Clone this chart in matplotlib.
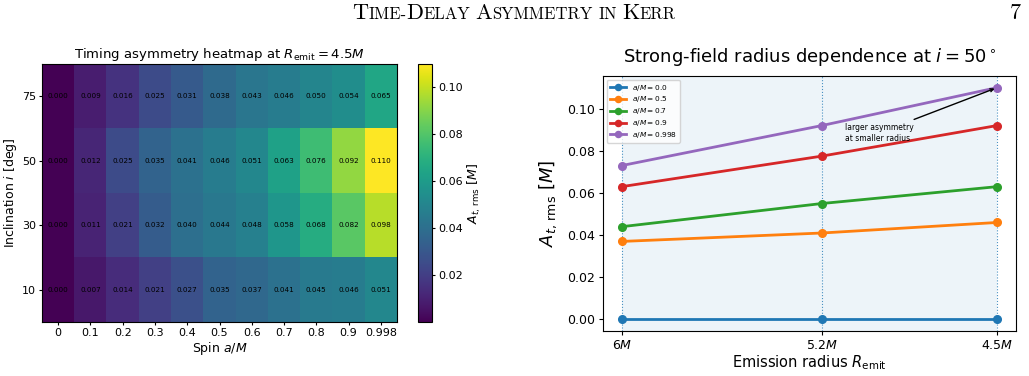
import numpy as np
import matplotlib
matplotlib.use("Agg")
import matplotlib.pyplot as plt

# ---------------- data ----------------
spins = ["0", "0.1", "0.2", "0.3", "0.4", "0.5", "0.6", "0.7", "0.8", "0.9", "0.998"]
inclinations = ["75", "50", "30", "10"]
A_i75 = [0.000, 0.009, 0.016, 0.025, 0.031, 0.038, 0.043, 0.046, 0.050, 0.054, 0.065]
A_i50 = [0.000, 0.012, 0.025, 0.035, 0.041, 0.046, 0.051, 0.063, 0.076, 0.092, 0.110]
A_i30 = [0.000, 0.011, 0.021, 0.032, 0.040, 0.044, 0.048, 0.058, 0.068, 0.082, 0.098]
A_i10 = [0.000, 0.007, 0.014, 0.021, 0.027, 0.035, 0.037, 0.041, 0.045, 0.046, 0.051]

radii = [6.0, 5.2, 4.5]
radius_labels = ["$6M$", "$5.2M$", "$4.5M$"]
line_spins = ["0.0", "0.5", "0.7", "0.9", "0.998"]
A_a00 = [0.000, 0.000, 0.000]
A_a05 = [0.037, 0.041, 0.046]
A_a07 = [0.044, 0.055, 0.063]
A_a09 = [0.063, 0.0775, 0.092]
A_a0998 = [0.073, 0.092, 0.110]

cbar_ticks = [0.02, 0.04, 0.06, 0.08, 0.10]

# ---------------- figure ----------------
W, H = 1029, 376
fig = plt.figure(figsize=(W / 100, H / 100), dpi=100)

def rect(l, t, r, b):
    return [l / W, 1 - b / H, (r - l) / W, (b - t) / H]

# header in small caps (simulated)
def small_caps(fig, text, x, y, big=16, small=12):
    pieces = []
    for word_i, word in enumerate(text.split(" ")):
        if word_i > 0:
            pieces.append((" ", small))
        buf = ""
        for ch in word:
            if ch.isupper():
                if buf:
                    pieces.append((buf.upper(), small)); buf = ""
                pieces.append((ch, big))
            else:
                buf += ch
        if buf:
            pieces.append((buf.upper(), small))
    arts = [fig.text(0, 0, s, fontsize=fs, family="cmr10", va="baseline", ha="left")
            for s, fs in pieces]
    fig.canvas.draw()
    r = fig.canvas.get_renderer()
    xpix, ypix = fig.transFigure.transform((x, y))
    widths = [a.get_window_extent(renderer=r).width for a in arts]
    cur = xpix - sum(widths) / 2
    for a, w in zip(arts, widths):
        a.set_position(fig.transFigure.inverted().transform((cur, ypix)))
        cur += w

small_caps(fig, "Time-Delay Asymmetry in Kerr", 514 / W, 1 - 19 / H)
fig.text(1015 / W, 1 - 19 / H, "7", fontsize=16, family="cmr10", va="baseline", ha="center")

# ---------------- heatmap ----------------
ax1 = fig.add_axes(rect(42, 64, 397, 322))
data = np.array([A_i75, A_i50, A_i30, A_i10])
im = ax1.imshow(data, cmap="viridis", aspect="auto", vmin=0.0, vmax=data.max())
ax1.set_xticks(range(len(spins)))
ax1.set_xticklabels(spins, fontsize=8)
ax1.set_yticks(range(len(inclinations)))
ax1.set_yticklabels(inclinations, fontsize=8)
ax1.tick_params(length=2.5, pad=2)
for i in range(data.shape[0]):
    for j in range(data.shape[1]):
        ax1.text(j, i, f"{data[i, j]:.3f}", ha="center", va="center", fontsize=5.2, color="black")
ax1.set_xlabel("Spin $a/M$", fontsize=9, labelpad=1)
ax1.set_ylabel("Inclination $i$ [deg]", fontsize=9, labelpad=2)
ax1.set_title(r"Timing asymmetry heatmap at $R_\mathrm{emit} = 4.5M$", fontsize=9.5, pad=4)

cax = fig.add_axes(rect(418, 64, 432, 322))
cb = fig.colorbar(im, cax=cax, ticks=cbar_ticks)
cb.ax.tick_params(labelsize=8, length=2.5, pad=2)
cb.set_label(r"$A_{t,\,\mathrm{rms}}\ [M]$", fontsize=9, labelpad=2)

# ---------------- line chart ----------------
ax2 = fig.add_axes(rect(603, 76, 1016, 331))
series = [A_a00, A_a05, A_a07, A_a09, A_a0998]
for k, (s, vals) in enumerate(zip(line_spins, series)):
    ax2.plot(radii, vals, marker="o", lw=2, ms=5.5, color=f"C{k}", label=f"$a/M = {s}$")
ax2.invert_xaxis()
ax2.axvspan(min(radii), max(radii), color="C0", alpha=0.08, lw=0, zorder=0)
for r_ in radii:
    ax2.axvline(r_, color="C0", ls=":", lw=0.8, alpha=0.8, zorder=0)
ax2.set_xticks(radii)
ax2.set_xticklabels(radius_labels, fontsize=9)
ax2.tick_params(axis="y", labelsize=9)
ax2.tick_params(length=3, pad=2.5)
ax2.set_xlabel(r"Emission radius $R_\mathrm{emit}$", fontsize=10.5, labelpad=1)
ax2.set_ylabel(r"$A_{t,\,\mathrm{rms}}\ [M]$", fontsize=13, labelpad=6)
ax2.set_title(r"Strong-field radius dependence at $i = 50^\circ$", fontsize=13, pad=10)
ax2.legend(loc="upper left", fontsize=5.3, handlelength=2.2, borderpad=0.4,
           labelspacing=0.25, markerscale=0.8)
ax2.annotate("larger asymmetry\nat smaller radius", xy=(radii[2], A_a0998[2]),
             xytext=(5.11, 0.0885), fontsize=5.5, ha="left", va="center",
             arrowprops=dict(arrowstyle="->", color="black", lw=1))

fig.savefig("out.png", dpi=100)
